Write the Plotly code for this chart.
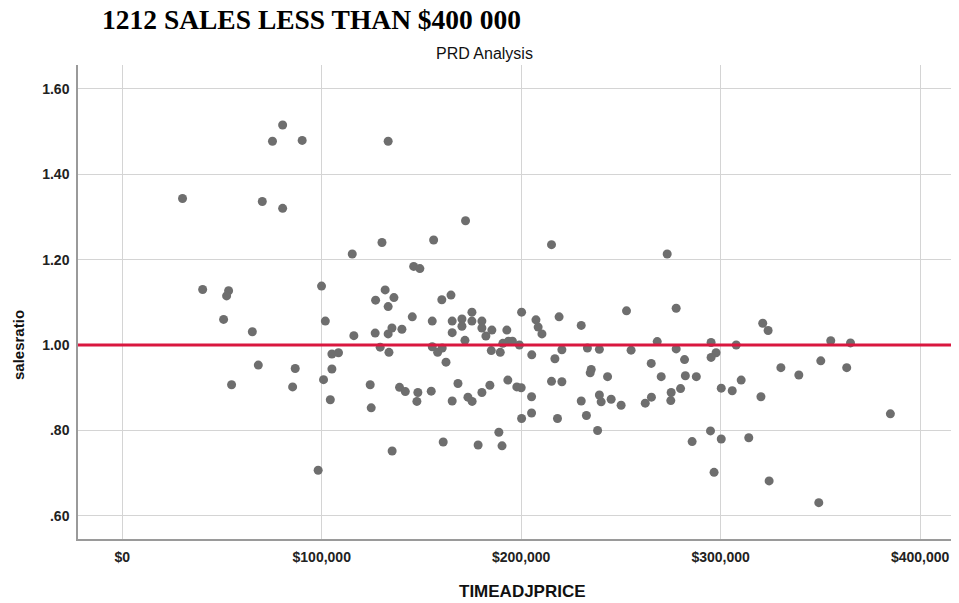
import plotly.graph_objects as go

# TIMEADJPRICE (dollars)
price = [
    80400, 75300, 90200, 30200, 70200, 80400, 40300, 53300, 52300, 99900,
    50800, 65200, 101800, 68200, 86700, 54800, 85400, 100900, 98200,
    133300, 172100, 130200, 156100, 115300, 215200, 146100, 149200, 131800, 127000,
    136200, 133300, 160200, 164800,
    116100, 126800, 133300, 135200, 140200, 145400, 155400, 165400, 170300, 170300,
    175300, 175300, 180300, 180300, 182300, 185300, 165400, 171800, 192800, 200200,
    207400, 208500, 210400, 219000, 129300, 133700, 155400, 158100, 160400, 105100,
    108400, 162300, 185000, 189500, 190800, 193600, 195600, 199100, 205300, 216900,
    220400, 105100, 104300, 124300, 124800, 139000, 141900, 148200, 147700, 154900,
    168300, 165400, 173300, 175400, 180300, 184300, 193300, 197800, 200000, 205200,
    215200, 220400, 200200, 205200, 218200, 188800, 190400, 178400, 160900, 135300,
    230100, 252800, 277700, 321100, 323800, 268200, 295200, 307800, 233200, 239200,
    255100, 277700, 297700, 295200, 281900, 265200, 235100, 234600, 243300, 270200,
    282300, 287800, 330200, 339200, 310300, 300300, 305800, 279900, 275200, 275000,
    265300, 262200, 250100, 245100, 240100, 239200, 230100, 320200, 232700, 238300,
    285700, 294900, 300300, 314100, 296700, 324300,
    273200,
    355200, 365100, 350200, 363200, 385100, 349200,
]

# salesratio
ratio = [
    1.515, 1.477, 1.479, 1.343, 1.336, 1.320, 1.130, 1.127, 1.115, 1.138,
    1.060, 1.031, 1.056, 0.953, 0.945, 0.907, 0.902, 0.919, 0.707,
    1.477, 1.291, 1.240, 1.246, 1.213, 1.235, 1.184, 1.179, 1.129, 1.105,
    1.111, 1.090, 1.106, 1.117,
    1.022, 1.028, 1.026, 1.040, 1.037, 1.066, 1.056, 1.056, 1.061, 1.044,
    1.077, 1.056, 1.056, 1.040, 1.021, 1.035, 1.029, 1.011, 1.035, 1.077,
    1.059, 1.042, 1.026, 1.066, 0.995, 0.983, 0.996, 0.983, 0.993, 0.979,
    0.982, 0.960, 0.987, 0.983, 1.004, 1.009, 1.009, 1.000, 0.977, 0.968,
    0.989, 0.944, 0.872, 0.907, 0.853, 0.901, 0.891, 0.889, 0.868, 0.892,
    0.910, 0.869, 0.878, 0.868, 0.889, 0.906, 0.918, 0.902, 0.900, 0.879,
    0.915, 0.914, 0.828, 0.841, 0.828, 0.796, 0.764, 0.766, 0.773, 0.752,
    1.046, 1.080, 1.086, 1.051, 1.034, 1.008, 1.006, 1.000, 0.993, 0.990,
    0.988, 0.991, 0.982, 0.971, 0.966, 0.957, 0.943, 0.935, 0.926, 0.926,
    0.928, 0.926, 0.947, 0.930, 0.918, 0.899, 0.893, 0.898, 0.889, 0.870,
    0.878, 0.864, 0.859, 0.873, 0.867, 0.883, 0.869, 0.879, 0.835, 0.800,
    0.774, 0.799, 0.780, 0.783, 0.702, 0.682,
    1.213,
    1.010, 1.005, 0.963, 0.947, 0.839, 0.631,
]

reference_ratio = 1.0

x_tickvals = [0, 100000, 200000, 300000, 400000]
x_ticktext = ["$0", "$100,000", "$200,000", "$300,000", "$400,000"]
y_tickvals = [0.60, 0.80, 1.00, 1.20, 1.40, 1.60]
y_ticktext = [".60", ".80", "1.00", "1.20", "1.40", "1.60"]

main_title = "1212 SALES LESS THAN $400 000"
chart_title = "PRD Analysis"
x_title = "TIMEADJPRICE"
y_title = "salesratio"

# the page body adds an 8px margin, so the figure is drawn 8px smaller
OFF = 8
W, H = 959 - OFF, 603 - OFF
L, R, T, B = 78 - OFF, 0, 65 - OFF, 603 - 539
PW, PH = W - L - R, H - T - B


def px_x(p):
    return (p - OFF - L) / PW


def px_y(p):
    return (H - B - (p - OFF)) / PH


tick_font = dict(family="Liberation Sans Narrow, Arial Narrow, Liberation Sans, Arial",
                 size=14, color="#222222", weight="bold")

fig = go.Figure()
fig.add_trace(go.Scatter(
    x=price, y=ratio, mode="markers",
    marker=dict(color="#6e6e6e", size=9, line=dict(width=0)),
    hoverinfo="x+y", showlegend=False,
))

fig.add_shape(type="line", xref="paper", yref="y", x0=0, x1=1,
              y0=reference_ratio, y1=reference_ratio,
              line=dict(color="#d9173f", width=3))

fig.update_layout(
    width=W, height=H,
    margin=dict(l=L, r=R, t=T, b=B, autoexpand=False),
    paper_bgcolor="white", plot_bgcolor="white",
    font=dict(family="Liberation Sans, Arial", color="#222222"),
    xaxis=dict(
        range=[-22200, 419500], tickvals=x_tickvals, ticktext=x_ticktext,
        showgrid=True, gridcolor="#d4d4d4", gridwidth=1,
        showline=True, linecolor="#9a9a9a", linewidth=1.5,
        zeroline=False, ticks="", tickfont=tick_font, ticklabelstandoff=4,
        automargin=False,
    ),
    yaxis=dict(
        range=[0.546, 1.6555], tickvals=y_tickvals, ticktext=y_ticktext,
        showgrid=True, gridcolor="#d4d4d4", gridwidth=1,
        showline=True, linecolor="#9a9a9a", linewidth=1.5,
        zeroline=False, ticks="", tickfont=tick_font, ticklabelstandoff=4,
        automargin=False,
    ),
    annotations=[
        dict(text="<b>" + main_title + "</b>", xref="paper", yref="paper",
             x=px_x(100), y=px_y(19), xanchor="left", yanchor="middle",
             showarrow=False,
             font=dict(family="Liberation Serif, Times New Roman, serif", size=27.5, color="#000000")),
        dict(text=chart_title, xref="paper", yref="paper",
             x=px_x(484), y=px_y(53), xanchor="center", yanchor="middle",
             showarrow=False,
             font=dict(family="Liberation Sans, Arial", size=16, color="#111111")),
        dict(text=x_title, xref="paper", yref="paper",
             x=px_x(522), y=px_y(591), xanchor="center", yanchor="middle",
             showarrow=False,
             font=dict(family="Liberation Sans, Arial", size=17, color="#111111", weight="bold")),
        dict(text=y_title, xref="paper", yref="paper",
             x=px_x(18), y=px_y(345), xanchor="center", yanchor="middle",
             textangle=-90, showarrow=False,
             font=dict(family="Liberation Sans, Arial", size=15, color="#111111", weight="bold")),
    ],
)

fig.write_html("out.html")
